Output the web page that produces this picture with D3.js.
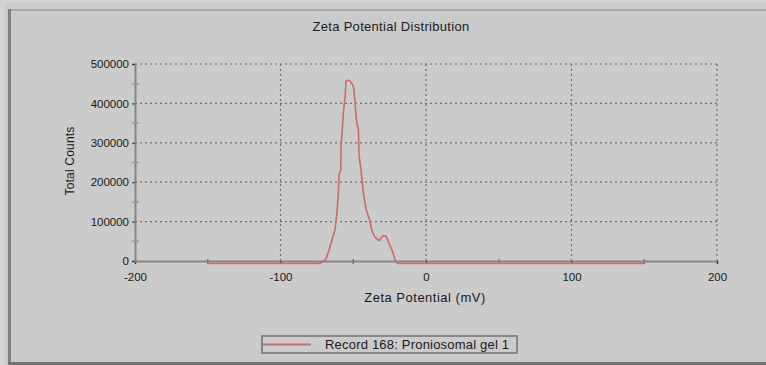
<!DOCTYPE html>
<html>
<head>
<meta charset="utf-8">
<script src="https://cdn.jsdelivr.net/npm/d3@7/dist/d3.min.js"></script>
<style>
  html, body { margin: 0; padding: 0; background: #d4d4d4; }
  svg { display: block; }
  text { font-family: "Liberation Sans", Arial, sans-serif; fill: #1a1a1a; }
</style>
</head>
<body>
<svg id="chart" width="766" height="365"></svg>
<script>
// Zeta potential distribution: potential (mV) vs total counts
const potential = [-150, -73, -68.7, -66.5, -64.4, -62.5, -61.4, -60.3, -59.8, -58.6, -58.4, -57.7, -56.8,
  -55.5, -55, -52.7, -50.6, -49.5, -48.6, -47.6, -46.5, -46, -44.7, -43.1, -41.2, -38.9, -37.1,
  -35, -32.1, -29.8, -27.5, -25.2, -23.1, -20.8, -19, 150];
const counts = [0, 0, 11000, 36000, 62000, 87000, 121000, 172000, 223000, 239000, 299000, 332000, 383000,
  426000, 464000, 465000, 455000, 442000, 400000, 358000, 341000, 273000, 239000, 180000, 138000, 112000, 83000,
  66000, 58000, 70000, 70000, 49000, 32000, 4000, 0, 0];

const xTicks = [-200, -100, 0, 100, 200];
const xMinorTicks = [-150, -50, 50, 150];
const yTicks = [0, 100000, 200000, 300000, 400000, 500000];
const yMinorTicks = [50000, 150000, 250000, 350000, 450000];

const title = "Zeta Potential Distribution";
const xTitle = "Zeta Potential (mV)";
const yTitle = "Total Counts";
const seriesName = "Record 168: Proniosomal gel 1";

const svg = d3.select("#chart");
const W = 766, H = 365;

// window frame
svg.append("rect").attr("x", 5).attr("y", 3).attr("width", W - 5).attr("height", H - 3).attr("fill", "#cbcbcb");
svg.append("rect").attr("x", 8).attr("y", 9).attr("width", W - 8).attr("height", 2).attr("fill", "#a9a9a9");
svg.append("rect").attr("x", 8).attr("y", 9).attr("width", 3).attr("height", H - 9).attr("fill", "#808080");
svg.append("rect").attr("x", 8).attr("y", 362).attr("width", W - 8).attr("height", 3).attr("fill", "#727272");

const x = d3.scaleLinear().domain([-200, 200]).range([135, 717]);
const y = d3.scaleLinear().domain([0, 500000]).range([261, 64]);

// title
svg.append("text").attr("x", 391).attr("y", 31).attr("text-anchor", "middle")
  .attr("font-size", 13).attr("letter-spacing", 0.3).text(title);

// grid
const grid = svg.append("g").attr("stroke", "#6e6e6e").attr("stroke-width", 1.2)
  .attr("stroke-dasharray", "2,3");
grid.selectAll(".gy").data(yTicks.slice(1)).join("line")
  .attr("x1", x(-200)).attr("x2", x(200))
  .attr("y1", d => y(d)).attr("y2", d => y(d));
grid.selectAll(".gx").data(xTicks.slice(1)).join("line")
  .attr("x1", d => x(d)).attr("x2", d => x(d))
  .attr("y1", y(0)).attr("y2", y(500000));

// axes (plain hyphen for negative numbers)
const fmt = d => String(d);
const xAxis = d3.axisBottom(x).tickValues(xTicks).tickSize(3).tickPadding(9).tickFormat(fmt);
const gx = svg.append("g").attr("transform", `translate(0,${y(0)})`).call(xAxis);
const yAxis = d3.axisLeft(y).tickValues(yTicks).tickSize(3).tickPadding(3).tickFormat(fmt);
const gy = svg.append("g").attr("transform", `translate(${x(-200)},0)`).call(yAxis);
[gx, gy].forEach(g => {
  g.select(".domain").attr("stroke", "#858585").attr("stroke-width", 2);
  g.selectAll(".tick line").attr("stroke", "#333");
  g.selectAll(".tick text").attr("font-size", 11.5).attr("fill", "#1a1a1a")
    .style("font-family", "Liberation Sans, Arial, sans-serif");
});

// minor ticks
svg.append("g").selectAll("line").data(xMinorTicks).join("line")
  .attr("x1", d => x(d)).attr("x2", d => x(d))
  .attr("y1", y(0) - 2).attr("y2", y(0) + 3).attr("stroke", "#777").attr("stroke-width", 1.5);
svg.append("g").selectAll("line").data(yMinorTicks).join("line")
  .attr("x1", x(-200) - 3).attr("x2", x(-200) + 4)
  .attr("y1", d => y(d)).attr("y2", d => y(d)).attr("stroke", "#999").attr("stroke-width", 1.5);

// axis titles
svg.append("text").attr("x", 425).attr("y", 302).attr("text-anchor", "middle")
  .attr("font-size", 13).attr("letter-spacing", 0.5).text(xTitle);
svg.append("text").attr("transform", `translate(74,161) rotate(-90)`)
  .attr("text-anchor", "middle").attr("font-size", 12).attr("letter-spacing", 0.2).text(yTitle);

// distribution curve
const line = d3.line().x((d, i) => x(potential[i])).y(d => y(d));
svg.append("path").datum(counts)
  .attr("transform", "translate(0,2.5)")
  .attr("fill", "none").attr("stroke", "#cf6a6a").attr("stroke-width", 1.6)
  .attr("stroke-linejoin", "round").attr("d", line);

// legend
const lg = svg.append("g");
lg.append("rect").attr("x", 262).attr("y", 336).attr("width", 255).attr("height", 17)
  .attr("fill", "none").attr("stroke", "#878787").attr("stroke-width", 2);
lg.append("line").attr("x1", 263).attr("x2", 311).attr("y1", 344.5).attr("y2", 344.5)
  .attr("stroke", "#cf6a6a").attr("stroke-width", 2);
lg.append("text").attr("x", 325).attr("y", 349).attr("font-size", 13).attr("letter-spacing", 0.2)
  .text(seriesName);
</script>
</body>
</html>
